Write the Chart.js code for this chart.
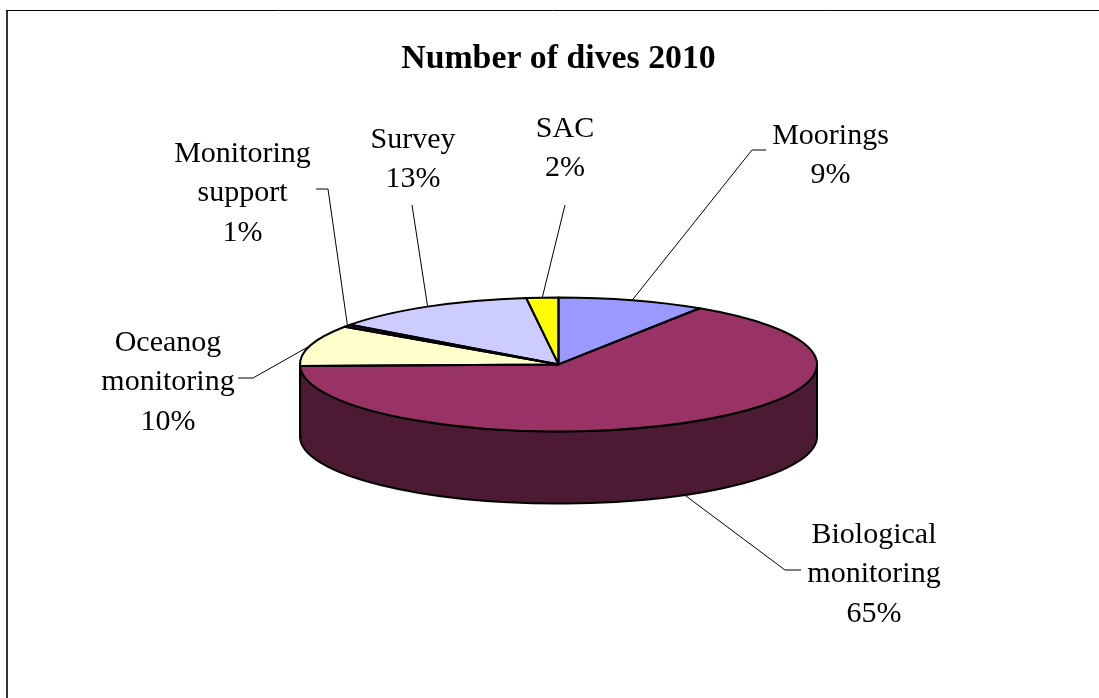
<!DOCTYPE html>
<html>
<head>
<meta charset="utf-8">
<title>Number of dives 2010</title>
<script src="https://cdn.jsdelivr.net/npm/chart.js@4/dist/chart.umd.min.js"></script>
<style>
    html, body { margin: 0; padding: 0; background: #fff; }
    canvas { display: block; }
</style>
</head>
<body>
<canvas id="myChart" width="1099" height="698"></canvas>
<script>
var titleText = 'Number of dives 2010';
var categories = [
    ['Moorings'],
    ['Biological', 'monitoring'],
    ['Oceanog', 'monitoring'],
    ['Monitoring', 'support'],
    ['Survey'],
    ['SAC']
];
var diveShares = [9.2, 65.4, 9.9, 0.6, 12.9, 2.0];
var sliceColors = ['#9999FF', '#993366', '#FFFFCC', '#660066', '#CCCCFF', '#FFFF00'];

// pie is tilted by squashing the circle, depth is the height of the side wall
var tilt = 67 / 258.5;
var depth = 72;
var fontFamily = '"Liberation Serif", "Times New Roman", serif';

// label centre, y of first line, line elbow: one entry per slice
var labelLayout = [
    { x: 830.5, y: 136, elbow: [[752, 150], [766, 150]] },
    { x: 874, y: 535, elbow: [[785, 570], [801, 570]], onSide: true },
    { x: 168, y: 343, elbow: [[253, 378], [238, 378]] },
    { x: 242.5, y: 154, elbow: [[328, 189], [316, 189]] },
    { x: 413, y: 140, elbow: [[412, 205]] },
    { x: 565, y: 129, elbow: [[565, 205]] }
];

var darken = function(hex) {
    var n = parseInt(hex.slice(1), 16);
    return 'rgb(' + Math.round((n >> 16) / 2) + ',' + Math.round(((n >> 8) & 255) / 2) + ',' + Math.round((n & 255) / 2) + ')';
};

var pie3d = {
    id: 'pie3d',
    beforeDraw: function(chart) {
        var c = chart.ctx;
        c.save();
        c.fillStyle = '#fff';
        c.fillRect(0, 0, chart.width, chart.height);
        c.strokeStyle = '#333';
        c.lineWidth = 2;
        c.beginPath();
        c.moveTo(7, chart.height);
        c.lineTo(7, 11);
        c.stroke();
        c.strokeStyle = '#000';
        c.lineWidth = 1;
        c.beginPath();
        c.moveTo(6, 10.5);
        c.lineTo(chart.width, 10.5);
        c.stroke();
        c.restore();
    },
    beforeDatasetsDraw: function(chart) {
        var c = chart.ctx;
        var arcs = chart.getDatasetMeta(0).data;
        // side wall, only the front half of the rim shows
        c.save();
        c.lineWidth = 2;
        c.strokeStyle = '#000';
        c.lineJoin = 'round';
        arcs.forEach(function(arc, i) {
            var a = Math.max(arc.startAngle, 0);
            var b = Math.min(arc.endAngle, Math.PI);
            if (b <= a) return;
            var ry = arc.outerRadius * tilt;
            c.beginPath();
            c.ellipse(arc.x, arc.y, arc.outerRadius, ry, 0, a, b);
            c.ellipse(arc.x, arc.y + depth, arc.outerRadius, ry, 0, b, a, true);
            c.closePath();
            c.fillStyle = darken(sliceColors[i]);
            c.fill();
            c.stroke();
        });
        c.restore();
        // the slices themselves are drawn by Chart.js inside this squash
        var first = arcs[0];
        c.save();
        c.translate(first.x, first.y);
        c.scale(1, tilt);
        c.translate(-first.x, -first.y);
    },
    afterDatasetsDraw: function(chart) {
        var c = chart.ctx;
        c.restore();
        var arcs = chart.getDatasetMeta(0).data;
        c.save();
        c.lineWidth = 2;
        c.strokeStyle = '#000';
        c.lineJoin = 'round';
        arcs.forEach(function(arc) {
            c.beginPath();
            c.moveTo(arc.x, arc.y);
            c.ellipse(arc.x, arc.y, arc.outerRadius, arc.outerRadius * tilt, 0, arc.startAngle, arc.endAngle);
            c.closePath();
            c.stroke();
        });
        c.restore();
    },
    afterDraw: function(chart) {
        var c = chart.ctx;
        var arcs = chart.getDatasetMeta(0).data;
        var total = diveShares.reduce(function(s, v) { return s + v; }, 0);
        c.save();
        // leader lines start at the middle of each slice's rim
        c.strokeStyle = '#000';
        c.lineWidth = 1;
        arcs.forEach(function(arc, i) {
            var mid = (arc.startAngle + arc.endAngle) / 2;
            var pos = labelLayout[i];
            var px = arc.x + arc.outerRadius * Math.cos(mid);
            var py = arc.y + arc.outerRadius * tilt * Math.sin(mid) + (pos.onSide ? depth : 0);
            c.beginPath();
            c.moveTo(px, py);
            pos.elbow.forEach(function(p) { c.lineTo(p[0], p[1]); });
            c.stroke();
        });
        // labels
        c.fillStyle = '#000';
        c.font = '30px ' + fontFamily;
        c.textAlign = 'center';
        c.textBaseline = 'middle';
        categories.forEach(function(lines, i) {
            var pos = labelLayout[i];
            var all = lines.concat([Math.round(diveShares[i] / total * 100) + '%']);
            all.forEach(function(t, j) {
                c.fillText(t, pos.x, pos.y + j * 39.5);
            });
        });
        c.restore();
    }
};

var ctx = document.getElementById('myChart');
var chart = new Chart(ctx, {
    type: 'pie',
    plugins: [pie3d],
    data: {
        labels: categories.map(function(l) { return l.join(' '); }),
        datasets: [{
            data: diveShares,
            backgroundColor: sliceColors,
            borderWidth: 0
        }]
    },
    options: {
        responsive: false,
        devicePixelRatio: 1,
        animation: false,
        events: [],
        layout: { padding: { left: 300, right: 282, top: 42, bottom: 45 } },
        plugins: {
            legend: { display: false },
            tooltip: { enabled: false },
            title: {
                display: true,
                text: titleText,
                color: '#000',
                padding: 0,
                font: { family: fontFamily, size: 33.8, weight: 'bold', lineHeight: 1 }
            }
        }
    }
});
</script>
</body>
</html>
